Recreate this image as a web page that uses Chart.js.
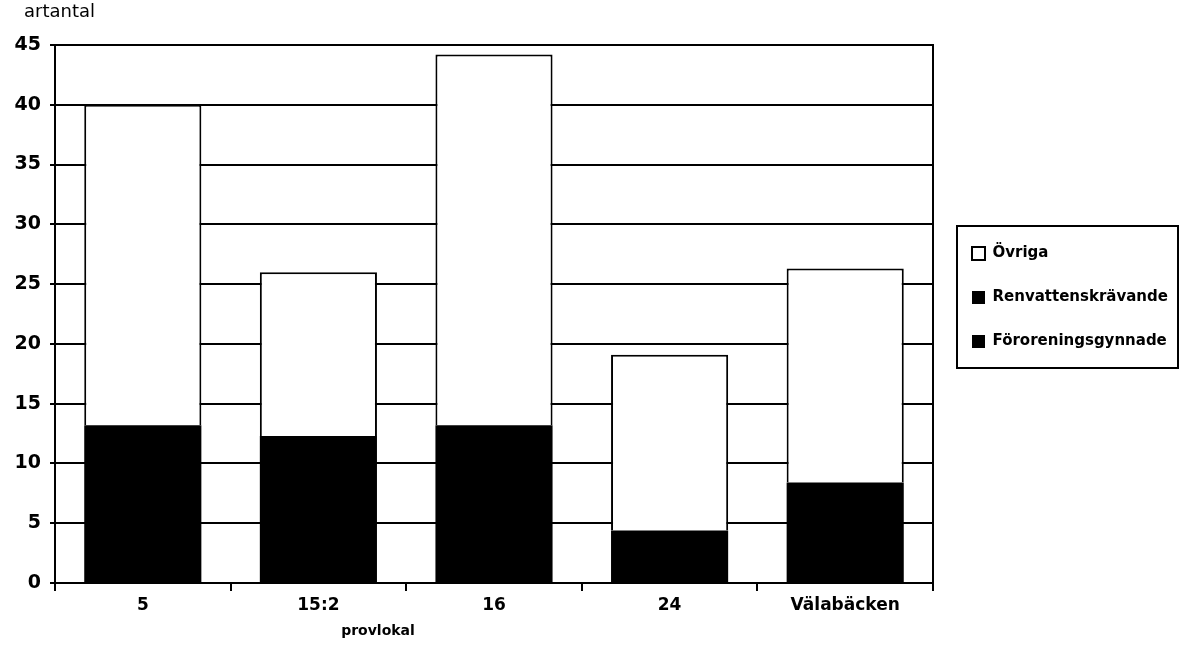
<!DOCTYPE html>
<html lang="sv">
<head>
    <meta charset="UTF-8">
    <title>artantal per provlokal</title>
    <style>
        html, body { margin: 0; padding: 0; background: #fff; }
        .wrap { width: 1181px; height: 649px; }
    </style>
</head>
<body>
    <div class="wrap">
        <canvas id="art-chart" width="1181" height="649"></canvas>
    </div>

    <script src="https://cdn.jsdelivr.net/npm/chart.js"></script>
    <script>
        // provlokaler och artantal
        const provlokaler = ['5', '15:2', '16', '24', 'Välabäcken'];
        const fororeningsgynnade = [13.2, 12.3, 13.2, 4.4, 8.4];
        const renvattenskravande = [0, 0, 0, 0, 0];
        const ovriga = [26.8, 13.7, 31.0, 14.7, 17.9];
        const yMax = 45;
        const yStep = 5;

        const font = "'DejaVu Sans', 'Liberation Sans', sans-serif";

        // texter utanför axlarna + ram runt förklaringen
        const extraText = {
            id: 'extraText',
            beforeLayout(chart) {
                const lg = chart.legend;
                if (lg && !lg._fixed) {
                    const fit = lg.fit;
                    lg.fit = function () {
                        fit.call(this);
                        this.width = 240;
                    };
                    lg._fixed = true;
                }
            },
            afterLayout(chart) {
                const lg = chart.legend;
                lg.left = 943;
                lg.right = chart.width;
                lg.top = 217;
                lg.bottom = chart.chartArea.bottom;
            },
            afterDraw(chart) {
                const ctx = chart.ctx;
                ctx.save();
                ctx.fillStyle = '#000';
                ctx.textBaseline = 'middle';
                ctx.font = '18px ' + font;
                ctx.textAlign = 'left';
                ctx.fillText('artantal', 24, 12);
                ctx.font = 'bold 14px ' + font;
                ctx.textAlign = 'center';
                ctx.fillText('provlokal', 378, 631);

                const hb = chart.legend.legendHitBoxes;
                if (hb && hb.length) {
                    const last = hb[hb.length - 1];
                    const x0 = hb[0].left - 15;
                    const y0 = hb[0].top - 20;
                    const x1 = chart.width - 3;
                    const y1 = last.top + last.height + 19;
                    ctx.strokeStyle = '#000';
                    ctx.lineWidth = 2;
                    ctx.strokeRect(x0, y0, x1 - x0, y1 - y0);
                }
                ctx.restore();
            }
        };

        const ctx = document.getElementById('art-chart').getContext('2d');
        window.artChart = new Chart(ctx, {
            type: 'bar',
            data: {
                labels: provlokaler,
                datasets: [
                    {
                        label: 'Föroreningsgynnade',
                        data: fororeningsgynnade,
                        backgroundColor: '#000',
                        borderWidth: 0
                    },
                    {
                        label: 'Renvattenskrävande',
                        data: renvattenskravande,
                        backgroundColor: '#000',
                        borderWidth: 0
                    },
                    {
                        label: 'Övriga',
                        data: ovriga,
                        backgroundColor: '#fff',
                        borderColor: '#000',
                        borderWidth: 2,
                        borderSkipped: 'bottom'
                    }
                ]
            },
            options: {
                responsive: false,
                animation: false,
                categoryPercentage: 1,
                barPercentage: 0.667,
                layout: { padding: { left: 12, top: 45, right: 0, bottom: 0 } },
                plugins: {
                    tooltip: { enabled: false },
                    legend: {
                        position: 'right',
                        align: 'start',
                        reverse: true,
                        labels: {
                            color: '#000',
                            boxWidth: 13,
                            boxHeight: 13,
                            padding: 29,
                            font: { family: font, size: 15, weight: 'bold' }
                        }
                    }
                },
                scales: {
                    x: {
                        stacked: true,
                        afterFit(scale) { scale.height = 66; },
                        grid: {
                            drawOnChartArea: false,
                            color: '#000',
                            lineWidth: 2,
                            tickLength: 8
                        },
                        border: { color: '#000', width: 2 },
                        ticks: {
                            color: '#000',
                            padding: 4,
                            maxRotation: 0,
                            font: { family: font, size: 17, weight: 'bold' }
                        }
                    },
                    y: {
                        stacked: true,
                        min: 0,
                        max: yMax,
                        afterFit(scale) { scale.width = 43; },
                        grid: {
                            color: '#000',
                            lineWidth: 2,
                            tickLength: 5
                        },
                        border: { color: '#000', width: 2 },
                        ticks: {
                            stepSize: yStep,
                            color: '#000',
                            padding: 9,
                            font: { family: font, size: 19, weight: 'bold' }
                        }
                    },
                    y2: {
                        position: 'right',
                        min: 0,
                        max: yMax,
                        grid: { display: false },
                        ticks: { display: false },
                        border: { display: true, color: '#000', width: 2 }
                    }
                }
            },
            plugins: [extraText]
        });
    </script>
</body>
</html>
